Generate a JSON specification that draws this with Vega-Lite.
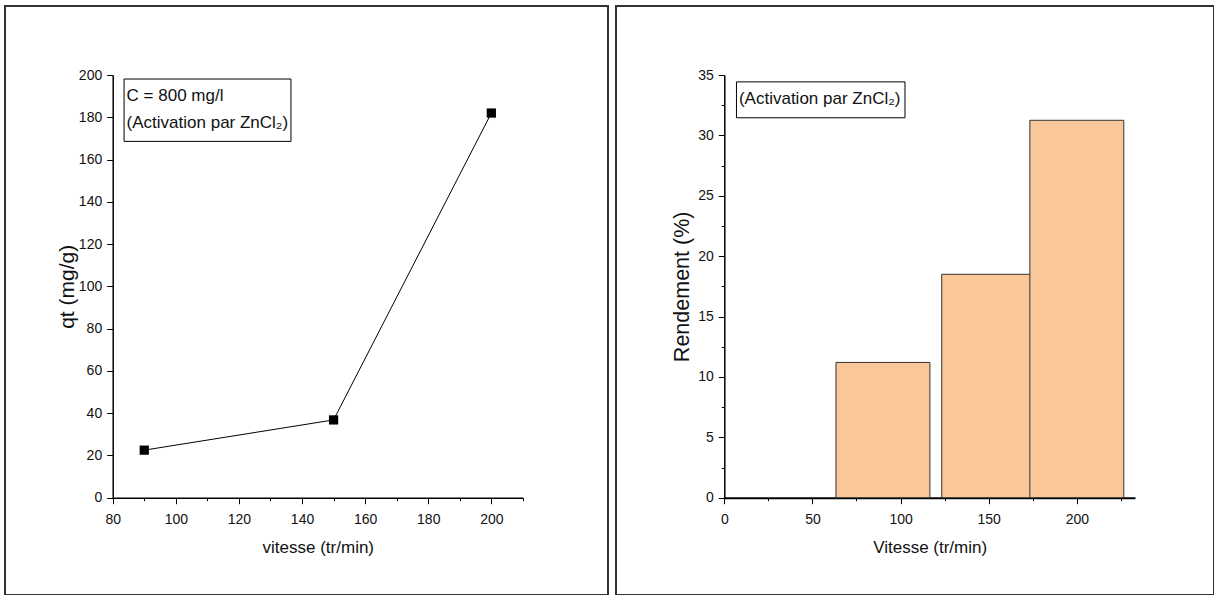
{
  "$schema": "https://vega.github.io/schema/vega-lite/v6.json",
  "padding": {"left": 4, "top": 5, "right": 0, "bottom": 0},
  "autosize": {"type": "pad"},
  "bounds": "flush",
  "spacing": 8,
  "background": "white",
  "config": {
    "view": {"stroke": "#333333", "strokeWidth": 2},
    "axis": {
      "domainColor": "#000000",
      "domainWidth": 1.5,
      "tickColor": "#000000",
      "tickWidth": 1,
      "labelFont": "Liberation Sans",
      "labelFontSize": 14,
      "labelColor": "#111111",
      "labelFlush": false,
      "labelOverlap": false,
      "labelBound": false,
      "titleColor": "#111111",
      "titleFontWeight": "normal",
      "grid": false,
      "zindex": 1
    }
  },
  "hconcat": [
    {
      "width": 603,
      "height": 589,
      "layer": [
        {
          "data": {"values": [{"v": 90, "q": 22.5}, {"v": 150, "q": 36.8}, {"v": 200, "q": 182}]},
          "mark": {"type": "line", "color": "#000000", "strokeWidth": 1},
          "encoding": {
            "x": {
              "field": "v", "type": "quantitative",
              "scale": {"domain": [80, 210], "range": [107.7, 517.9], "nice": false, "zero": false},
              "axis": {
                "orient": "bottom", "offset": -97.3,
                "values": [80, 90, 100, 110, 120, 130, 140, 150, 160, 170, 180, 190, 200, 210],
                "labelExpr": "datum.value % 20 === 0 ? datum.label : ''",
                "tickSize": {"condition": {"test": "datum.value % 20 === 0", "value": 6}, "value": 3},
                "labelPadding": 9,
                "title": "vitesse (tr/min)",
                "titleFont": "Liberation Sans",
                "titleFontSize": 17,
                "titlePadding": 13
              }
            },
            "y": {
              "field": "q", "type": "quantitative",
              "scale": {"domain": [0, 200], "range": [491.7, 69], "nice": false, "zero": false},
              "axis": {
                "orient": "left", "offset": -107.7,
                "values": [0, 10, 20, 30, 40, 50, 60, 70, 80, 90, 100, 110, 120, 130, 140, 150, 160, 170, 180, 190, 200],
                "labelExpr": "datum.value % 20 === 0 ? datum.label : ''",
                "tickSize": {"condition": {"test": "datum.value % 20 === 0", "value": 6}, "value": 3},
                "labelPadding": 5,
                "title": "qt  (mg/g)",
                "titleFont": "Liberation Sans",
                "titleFontSize": 21,
                "titlePadding": 1
              }
            }
          }
        },
        {
          "data": {"values": [{"v": 90, "q": 22.5}, {"v": 150, "q": 36.8}, {"v": 200, "q": 182}]},
          "mark": {"type": "point", "shape": "square", "filled": true, "size": 85, "color": "#000000", "opacity": 1},
          "encoding": {
            "x": {"field": "v", "type": "quantitative"},
            "y": {"field": "q", "type": "quantitative"}
          }
        },
        {
          "data": {"values": [{"v": 83.6, "v2": 136.5, "q": 198.1, "q2": 168.6}]},
          "mark": {"type": "rect", "fill": "#ffffff", "stroke": "#000000", "strokeWidth": 1},
          "encoding": {
            "x": {"field": "v", "type": "quantitative"},
            "x2": {"field": "v2"},
            "y": {"field": "q", "type": "quantitative"},
            "y2": {"field": "q2"}
          }
        },
        {
          "data": {"values": [{"v": 84.4, "q": 190.1, "t": "C = 800 mg/l"}, {"v": 84.4, "q": 177.1, "t": "(Activation par ZnCl₂)"}]},
          "mark": {"type": "text", "align": "left", "baseline": "middle", "font": "Liberation Sans", "fontSize": 17, "color": "#111111"},
          "encoding": {
            "x": {"field": "v", "type": "quantitative"},
            "y": {"field": "q", "type": "quantitative"},
            "text": {"field": "t"}
          }
        }
      ]
    },
    {
      "width": 598,
      "height": 589,
      "layer": [
        {
          "data": {"values": [
            {"vitesse": 90, "a": 63.35, "b": 116.65, "r": 11.2},
            {"vitesse": 150, "a": 123.35, "b": 176.65, "r": 18.5},
            {"vitesse": 200, "a": 173.35, "b": 226.65, "r": 31.25}
          ]},
          "mark": {"type": "rect", "fill": "#FAC898", "stroke": "#333333", "strokeWidth": 1},
          "encoding": {
            "x": {
              "field": "a", "type": "quantitative",
              "scale": {"domain": [0, 233], "range": [108.3, 519.0], "nice": false, "zero": false},
              "axis": {
                "orient": "bottom", "offset": -97.3,
                "values": [0, 25, 50, 75, 100, 125, 150, 175, 200, 225],
                "labelExpr": "datum.value % 50 === 0 ? datum.label : ''",
                "tickSize": {"condition": {"test": "datum.value % 50 === 0", "value": 6}, "value": 3},
                "labelPadding": 9,
                "domainWidth": 2,
                "title": "Vitesse (tr/min)",
                "titleFont": "Liberation Sans",
                "titleFontSize": 17,
                "titlePadding": 13
              }
            },
            "x2": {"field": "b"},
            "y": {
              "field": "r", "type": "quantitative",
              "scale": {"domain": [0, 35], "range": [491.7, 69], "nice": false, "zero": false},
              "axis": {
                "orient": "left", "offset": -108.3,
                "values": [0, 2.5, 5, 7.5, 10, 12.5, 15, 17.5, 20, 22.5, 25, 27.5, 30, 32.5, 35],
                "labelExpr": "datum.value % 5 === 0 ? datum.label : ''",
                "tickSize": {"condition": {"test": "datum.value % 5 === 0", "value": 6}, "value": 3},
                "labelPadding": 5,
                "title": "Rendement (%)",
                "titleFont": "Liberation Sans",
                "titleFontSize": 21.5,
                "titlePadding": 4
              }
            },
            "y2": {"datum": 0}
          }
        },
        {
          "data": {"values": [{"a": 6.9, "b": 102.5, "r": 34.43, "r2": 31.46}]},
          "mark": {"type": "rect", "fill": "#ffffff", "stroke": "#000000", "strokeWidth": 1},
          "encoding": {
            "x": {"field": "a", "type": "quantitative"},
            "x2": {"field": "b"},
            "y": {"field": "r", "type": "quantitative"},
            "y2": {"field": "r2"}
          }
        },
        {
          "data": {"values": [{"a": 8.3, "r": 32.98, "t": "(Activation par ZnCl₂)"}]},
          "mark": {"type": "text", "align": "left", "baseline": "middle", "font": "Liberation Sans", "fontSize": 17, "color": "#111111"},
          "encoding": {
            "x": {"field": "a", "type": "quantitative"},
            "y": {"field": "r", "type": "quantitative"},
            "text": {"field": "t"}
          }
        }
      ]
    }
  ]
}
